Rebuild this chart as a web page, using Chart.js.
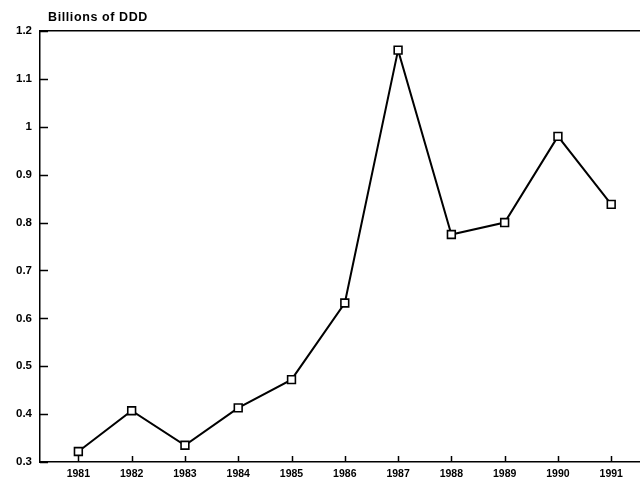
<!DOCTYPE html>
<html>
<head>
<meta charset="utf-8">
<script src="https://cdn.jsdelivr.net/npm/chart.js@4/dist/chart.umd.min.js"></script>
<style>
  html, body { margin: 0; padding: 0; background: #fff; }
  #wrap { width: 640px; height: 479px; position: relative; }
</style>
</head>
<body>
<div id="wrap"><canvas id="chart"></canvas></div>
<script>
const years = [1981, 1982, 1983, 1984, 1985, 1986, 1987, 1988, 1989, 1990, 1991];
const values = [0.322, 0.407, 0.335, 0.413, 0.472, 0.632, 1.16, 0.775, 0.80, 0.98, 0.838];
const yTicks = [0.3, 0.4, 0.5, 0.6, 0.7, 0.8, 0.9, 1, 1.1, 1.2];
const unitLabel = "Billions of DDD";

const FONT = "'Liberation Sans', Arial, sans-serif";

// inward tick marks + unit label over the axis
const axisMarks = {
  id: "axisMarks",
  afterDraw(chart) {
    const { ctx, chartArea, scales } = chart;
    ctx.save();
    ctx.strokeStyle = "#000";
    ctx.lineWidth = 1.5;
    ctx.beginPath();
    yTicks.forEach(v => {
      const y = Math.round(scales.y.getPixelForValue(v)) + 0.5;
      ctx.moveTo(chartArea.left, y);
      ctx.lineTo(chartArea.left + 8, y);
    });
    years.forEach(v => {
      const x = Math.round(scales.x.getPixelForValue(v)) + 0.5;
      ctx.moveTo(x, chartArea.bottom);
      ctx.lineTo(x, chartArea.bottom - 6);
    });
    ctx.stroke();
    ctx.fillStyle = "#000";
    ctx.font = "bold 12.5px " + FONT;
    ctx.letterSpacing = "0.6px";
    ctx.textBaseline = "alphabetic";
    ctx.fillText(unitLabel, chartArea.left + 8, chartArea.top - 10);
    ctx.restore();
  }
};

new Chart(document.getElementById("chart"), {
  type: "line",
  data: {
    datasets: [{
      data: years.map((yr, i) => ({ x: yr, y: values[i] })),
      borderColor: "#000",
      borderWidth: 2,
      pointStyle: "rect",
      pointRadius: 5.5,
      pointBorderWidth: 1.6,
      pointBackgroundColor: "#fff",
      pointBorderColor: "#000",
      tension: 0,
      clip: false
    }]
  },
  options: {
    responsive: true,
    maintainAspectRatio: false,
    animation: false,
    layout: { autoPadding: false, padding: { top: 31, right: 0, left: 0, bottom: 0 } },
    plugins: {
      legend: { display: false },
      tooltip: { enabled: false }
    },
    scales: {
      x: {
        type: "linear",
        min: 1980.28,
        max: 1991.54,
        afterBuildTicks: s => { s.ticks = years.map(v => ({ value: v })); },
        afterFit: s => { s.height = 17; s.paddingLeft = 0; s.paddingRight = 0; },
        grid: { display: false, drawTicks: false },
        border: { display: true, color: "#000", width: 1.5 },
        ticks: {
          color: "#000",
          padding: 6,
          maxRotation: 0,
          autoSkip: false,
          font: { family: FONT, size: 10.5, weight: "bold" },
          callback: v => String(v)
        }
      },
      top: {
        type: "linear",
        position: "top",
        min: 0,
        max: 1,
        afterFit: s => { s.height = 0; s.paddingLeft = 0; s.paddingRight = 0; },
        grid: { display: false, drawTicks: false },
        border: { display: true, color: "#000", width: 1.5 },
        ticks: { display: false }
      },
      y: {
        min: 0.3,
        max: 1.2,
        afterBuildTicks: s => { s.ticks = yTicks.map(v => ({ value: v })); },
        afterFit: s => { s.width = 40; s.paddingTop = 0; s.paddingBottom = 0; },
        grid: { display: false, drawTicks: false },
        border: { display: true, color: "#000", width: 1.5 },
        ticks: {
          color: "#000",
          padding: 8,
          font: { family: FONT, size: 11.5, weight: "bold" },
          callback: v => String(v)
        }
      }
    }
  },
  plugins: [axisMarks]
});
</script>
</body>
</html>
